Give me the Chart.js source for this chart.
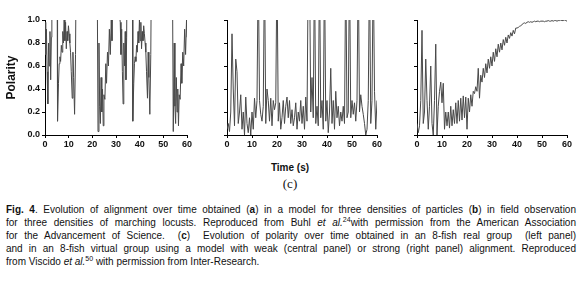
<!DOCTYPE html>
<html lang="en">
<head>
  <meta charset="UTF-8">
  <title>Polarity over time</title>
  <script src="https://cdn.jsdelivr.net/npm/chart.js"></script>
  <style>
    body { margin: 0; width: 580px; height: 283px; background: #fff; position: relative; overflow: hidden; font-family: "Liberation Sans", Arial, sans-serif; color: #111; }
    .panel { position: absolute; top: 0; }
    .xtitle { position: absolute; top: 162px; left: 0; width: 580px; text-align: center; font-weight: bold; font-size: 10px; }
    .tag { position: absolute; top: 176px; left: 0; width: 580px; text-align: center; font-family: "Liberation Serif", serif; font-size: 13px; }
    .cap { position: absolute; left: 6px; font-size: 10px; line-height: 12px; white-space: nowrap; transform-origin: 0 0; }
    .cap sup { font-size: 7px; line-height: 0; }
  </style>
</head>
<body>
  <canvas id="p1" class="panel" width="195" height="150" style="left:0px"></canvas>
  <canvas id="p2" class="panel" width="195" height="150" style="left:190px"></canvas>
  <canvas id="p3" class="panel" width="195" height="150" style="left:380px"></canvas>

  <div class="xtitle">Time (s)</div>
  <div class="tag">(c)</div>

  <div class="cap" style="top:204px"><span><b>Fig. 4</b>. Evolution of alignment over time obtained (<b>a</b>) in a model for three densities of particles (<b>b</b>) in field observation</span></div>
  <div class="cap" style="top:217px"><span>for three densities of marching locusts. Reproduced from Buhl <i>et al.</i><sup>24</sup>with permission from the American Association</span></div>
  <div class="cap" style="top:230px"><span>for the Advancement of Science.&nbsp; (<b>c</b>)&nbsp; Evolution of polarity over time obtained in an 8-fish real group&nbsp; (left panel)</span></div>
  <div class="cap" style="top:243px"><span>and in an 8-fish virtual group using a model with weak (central panel) or strong (right panel) alignment. Reproduced</span></div>
  <div class="cap last" style="top:256px"><span>from Viscido <i>et al.</i><sup>50</sup> with permission from Inter-Research.</span></div>

  <script>
    // left panel: real group (values above 1.0 run off the top of the plot)
    const time1 = [0,0.3,0.6,0.9,1.2,1.5,1.8,2.1,2.4,2.7,2.9,
      5.1,5.3,5.7,6.0,6.3,6.6,6.9,7.2,7.5,7.8,8.1,8.4,8.7,9.0,9.3,9.6,9.9,10.2,10.5,10.8,11.1,11.5,11.8,12.1,12.5,12.9,13.2,
      22.0,22.4,22.8,23.1,23.4,23.7,24.0,24.3,24.6,24.9,25.3,25.7,26.0,26.4,26.8,27.2,27.6,28.0,28.3,28.7,
      31.8,32.1,32.4,32.7,33.0,33.3,33.6,33.9,34.2,34.5,34.7,
      36.9,37.1,37.5,37.8,38.1,38.4,38.7,39.0,39.3,39.6,39.9,40.2,40.5,40.8,41.1,41.4,41.7,42.0,42.3,42.6,42.9,43.3,43.6,43.9,44.3,44.7,45.0,
      53.8,54.2,54.6,54.9,55.2,55.5,55.8,56.1,56.4,56.7,57.1,57.5,57.8,58.2,58.6,59.0,59.4,59.8,60.0];
    const polar1 = [0.98,0.7,0.92,0.55,0.27,0.8,0.6,0.9,0.48,0.85,1.6,
      1.6,0.12,0.45,0.62,0.68,0.64,0.78,0.72,0.9,0.8,1.0,0.82,0.98,0.75,0.9,0.82,0.95,0.88,0.8,0.72,0.55,0.32,0.72,0.5,0.18,0.7,1.6,
      1.6,0.03,0.8,0.25,0.1,0.5,0.2,0.4,0.08,0.35,0.31,0.62,0.45,0.72,0.6,0.92,0.7,1.0,0.82,1.6,
      0.98,0.7,0.92,0.55,0.27,0.8,0.6,0.9,0.48,0.85,1.6,
      1.6,0.12,0.45,0.62,0.68,0.64,0.78,0.72,0.9,0.8,1.0,0.82,0.98,0.75,0.9,0.82,0.95,0.88,0.8,0.72,0.55,0.32,0.72,0.5,0.18,0.7,1.6,
      1.6,0.03,0.8,0.25,0.1,0.5,0.2,0.4,0.08,0.35,0.31,0.62,0.45,0.72,0.6,0.92,0.7,1.0,0.85];

    // central and right panels are sampled every half second
    const time2 = [0,0.5,1,1.5,2,2.5,3,3.5,4,4.5,5,5.5,6,6.5,7,7.5,8,8.5,9,9.5,10,10.5,11,11.5,12,12.5,13,13.5,14,14.5,15,15.5,16,16.5,17,17.5,18,18.5,19,19.5,
      20,20.5,21,21.5,22,22.5,23,23.5,24,24.5,25,25.5,26,26.5,27,27.5,28,28.5,29,29.5,30,30.5,31,31.5,32,32.5,33,33.5,34,34.5,35,35.5,36,36.5,37,37.5,38,38.5,39,39.5,
      40,40.5,41,41.5,42,42.5,43,43.5,44,44.5,45,45.5,46,46.5,47,47.5,48,48.5,49,49.5,50,50.5,51,51.5,52,52.5,53,53.5,54,54.5,55,55.5,56,56.5,57,57.5,58,58.5,59,59.5,60];
    const polarWeak = [0.05,0.1,0.03,0.2,0.88,0.4,0.08,0.66,0.55,0.1,0.2,0.35,0.05,0.2,0.0,0.33,0.1,0.02,0.15,0.0,
      0.2,0.05,0.32,0.15,0.3,1.5,0.3,0.18,0.12,0.25,1.5,0.1,0.4,0.3,0.12,0.32,0.08,0.3,0.22,0.28,
      1.5,0.12,0.28,0.05,0.15,0.3,0.1,0.25,0.33,0.15,0.3,0.1,0.22,0.08,0.15,0.28,0.05,0.2,0.12,0.3,
      0.1,0.25,0.05,0.33,0.12,1.5,1.5,0.2,0.5,0.15,1.5,0.1,0.25,0.08,1.5,0.15,0.3,0.05,1.5,0.12,
      0.3,0.02,0.2,0.58,0.1,0.3,0.05,0.38,0.15,0.25,0.08,0.2,0.12,0.25,0.1,1.5,0.15,0.2,1.5,0.15,
      0.3,0.18,0.28,0.12,0.3,1.5,0.2,0.35,0.25,0.18,0.1,0.0,0.05,0.3,1.5,0.1,0.3,1.5,0.38,0.05,0.3];
    const polarStrong = [0.1,0.02,0.08,0.3,0.91,0.1,0.2,0.66,0.3,0.05,0.25,0.6,0.1,0.0,0.3,0.79,0.0,0.25,0.38,0.46,
      0.28,0.45,0.05,0.2,0.08,0.2,0.06,0.25,0.08,0.22,0.1,0.28,0.1,0.3,0.12,0.32,0.13,0.34,0.15,0.33,
      0.05,0.32,0.2,0.35,0.25,0.38,0.36,0.42,0.38,0.58,0.32,0.52,0.46,0.58,0.5,0.62,0.54,0.66,0.58,0.68,
      0.6,0.72,0.64,0.75,0.68,0.79,0.72,0.8,0.74,0.83,0.78,0.85,0.8,0.87,0.84,0.89,0.86,0.91,0.88,0.93,
      0.93,0.935,0.945,0.95,0.96,0.97,0.975,0.97,0.98,0.985,0.98,0.985,0.98,0.985,0.99,0.985,0.99,0.99,0.985,0.99,
      0.99,0.99,0.985,0.99,0.99,0.995,0.99,0.99,0.995,0.99,0.995,0.995,0.99,0.995,0.995,1.0,0.995,0.995,1.0,0.995,0.99];

    const xTicks = [0, 10, 20, 30, 40, 50, 60];
    const yTicks = [0.0, 0.2, 0.4, 0.6, 0.8, 1.0];

    function makePanel(id, times, values, showY, yWidth) {
      const pts = times.map((t, i) => ({ x: t, y: values[i] }));
      new Chart(document.getElementById(id), {
        type: "line",
        data: { datasets: [{ data: pts, borderColor: "#484848", borderWidth: 1, pointRadius: 0, tension: 0, fill: false }] },
        options: {
          responsive: false,
          animation: false,
          events: [],
          layout: { padding: { top: 20, right: 8, left: showY ? 4 : 0 } },
          plugins: { legend: { display: false }, tooltip: { enabled: false } },
          scales: {
            x: {
              type: "linear", min: 0, max: 60,
              afterBuildTicks: s => { s.ticks = xTicks.map(v => ({ value: v })); },
              ticks: { color: "#111", font: { family: "Liberation Sans", size: 9, weight: "bold" }, padding: 1, maxRotation: 0 },
              grid: { drawOnChartArea: false, tickLength: 3, color: "#000" },
              border: { color: "#000", width: 1 },
              afterFit: s => { s.height = 15; }
            },
            y: {
              min: 0, max: 1,
              afterBuildTicks: s => { s.ticks = yTicks.map(v => ({ value: v })); },
              ticks: { display: showY, color: "#111", font: { family: "Liberation Sans", size: 9, weight: "bold" }, padding: 2, callback: v => v.toFixed(1) },
              grid: { drawOnChartArea: false, tickLength: 3, color: "#000" },
              border: { color: "#000", width: 1 },
              title: { display: showY, text: "Polarity", color: "#111", font: { family: "Liberation Sans", size: 12, weight: "bold" }, padding: 0 },
              afterFit: s => { s.width = yWidth; }
            }
          }
        }
      });
    }

    makePanel("p1", time1, polar1, true, 41);
    makePanel("p2", time2, polarWeak, false, 37);
    makePanel("p3", time2, polarStrong, false, 37);

    // stretch caption lines to the full text block width, like the justified original
    const target = 570;
    document.querySelectorAll(".cap").forEach(line => {
      const span = line.querySelector("span");
      const w = span.getBoundingClientRect().width;
      if (w > target) {
        line.style.transform = "scaleX(" + (target / w) + ")";
      } else if (!line.classList.contains("last")) {
        const gaps = span.textContent.split(/[ \u00a0]/).length - 1;
        line.style.wordSpacing = ((target - w) / gaps) + "px";
      }
    });
  </script>
</body>
</html>
